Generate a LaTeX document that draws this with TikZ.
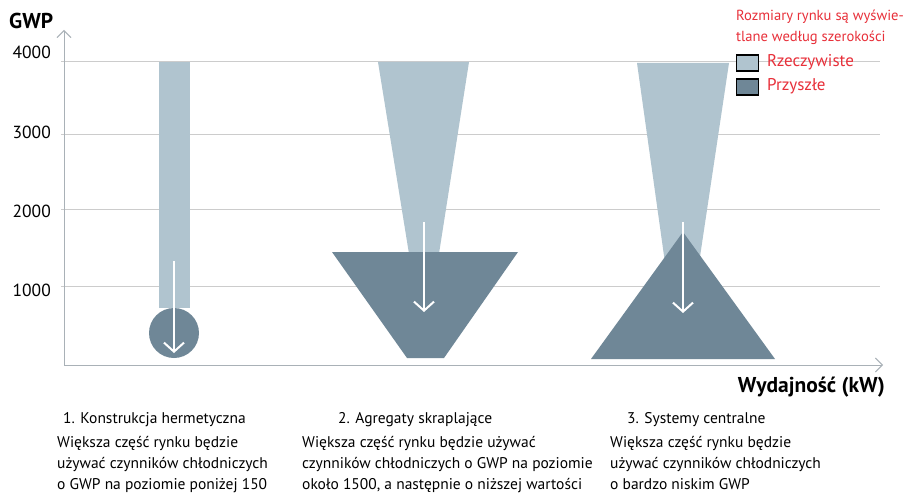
\documentclass[tikz,border=0pt]{standalone}
\usepackage{fontspec}
\setmainfont{PT Sans}
\usetikzlibrary{arrows.meta}
\definecolor{lightbar}{HTML}{B0C4CF}
\definecolor{darkbar}{HTML}{6F8797}
\definecolor{redtxt}{HTML}{E8303A}
\definecolor{gridcol}{HTML}{CCCCCC}
\definecolor{axiscol}{HTML}{A9B1B7}
\tikzset{
  gridline/.style={draw=gridcol, line width=1pt},
  axisline/.style={draw=axiscol, line width=1pt, -{Straight Barb[length=7pt,width=14pt,line width=0.9pt]}},
  ticklab/.style={anchor=east, font=\fontsize{17.5}{20}\selectfont, inner sep=0pt},
  downarrow/.style={draw=white, line width=2pt, -{Straight Barb[length=9pt,width=20pt,line width=2pt]}},
  nowfill/.style={fill=lightbar},
  futfill/.style={fill=darkbar},
  legbox/.style={draw=black, line width=1.4pt, minimum width=22pt, minimum height=16pt, inner sep=0pt},
  legtxt/.style={anchor=west, text=redtxt, font=\fontsize{17}{20}\selectfont, inner sep=0pt},
  leghead/.style={anchor=west, text=redtxt, font=\fontsize{14.6}{20}\selectfont, inner sep=0pt},
  axtitle/.style={font=\bfseries\fontsize{21.5}{24}\selectfont, inner sep=0pt},
  caphead/.style={anchor=west, font=\fontsize{15.5}{21}\selectfont, inner sep=0pt},
  capbody/.style={anchor=north west, align=left, font=\fontsize{15.5}{21}\selectfont, inner sep=0pt}
}
\begin{document}
\begin{tikzpicture}[x=1pt,y=-1pt]
\useasboundingbox (0,0) rectangle (903,495);
\fill[white] (0,0) rectangle (903,495);

% grid lines
\draw[gridline] (61,62) -- (880,62);
\draw[gridline] (61,134) -- (880,134);
\draw[gridline] (61,209) -- (880,209);
\draw[gridline] (61,286) -- (880,286);

% tick labels
\node[ticklab] (t4) at (51,52) {4000};
\node[ticklab] (t3) at (51,132) {3000};
\node[ticklab] (t2) at (51,211) {2000};
\node[ticklab] (t1) at (51,290) {1000};

% axes
\coordinate (origin) at (64,365);
\coordinate (ytop) at (64,30);
\coordinate (xend) at (883,365);
\draw[axisline] (origin) -- (ytop);
\draw[axisline] (origin) -- (xend);
\node[axtitle, anchor=west] (gwp) at (9,21) {GWP};
\node[axtitle, anchor=east] (xlab) at (885,387) {Wydajność (kW)};

% shape 1: hermetic
\fill[nowfill] (159,62) rectangle (190,308);
\fill[futfill] (174,333) circle (25);
\coordinate (a1s) at (174,261);
\coordinate (a1e) at (174,353);
\draw[downarrow] (a1s) -- (a1e);

% shape 2: condensing units
\fill[nowfill] (378,62) -- (469,62) -- (438,260) -- (410,260) -- cycle;
\fill[futfill] (332,252) -- (518,252) -- (444,358) -- (407,358) -- cycle;
\coordinate (a2s) at (424,222);
\coordinate (a2e) at (424,312);
\draw[downarrow] (a2s) -- (a2e);

% shape 3: central systems
\fill[nowfill] (637,63) -- (729,63) -- (698,270) -- (666,270) -- cycle;
\fill[futfill] (683,232) -- (775,359) -- (591,359) -- cycle;
\coordinate (a3s) at (683,222);
\coordinate (a3e) at (683,313);
\draw[downarrow] (a3s) -- (a3e);

% legend
\node[leghead] (leg1) at (736,17) {Rozmiary rynku są wyświe-};
\node[leghead] (leg2) at (736,38) {tlane według szerokości};
\node[legbox, fill=lightbar] (bnow) at (747.5,63) {};
\node[legbox, fill=darkbar] (bfut) at (747.5,87) {};
\node[legtxt] (lnow) at (767,62) {Rzeczywiste};
\node[legtxt] (lfut) at (767,86) {Przyszłe};

% captions
\node[caphead] (h1) at (63,420) {1. Konstrukcja hermetyczna};
\node[capbody] (b1) at (57,436) {Większa część rynku będzie\\używać czynników chłodniczych\\o GWP na poziomie poniżej 150};
\node[caphead] (h2) at (338,420) {2. Agregaty skraplające};
\node[capbody] (b2) at (302,436) {Większa część rynku będzie używać\\czynników chłodniczych o GWP na poziomie\\około 1500, a następnie o niższej wartości};
\node[caphead] (h3) at (627,420) {3. Systemy centralne};
\node[capbody] (b3) at (610,436) {Większa część rynku będzie\\używać czynników chłodniczych\\o bardzo niskim GWP};
\end{tikzpicture}
\end{document}
